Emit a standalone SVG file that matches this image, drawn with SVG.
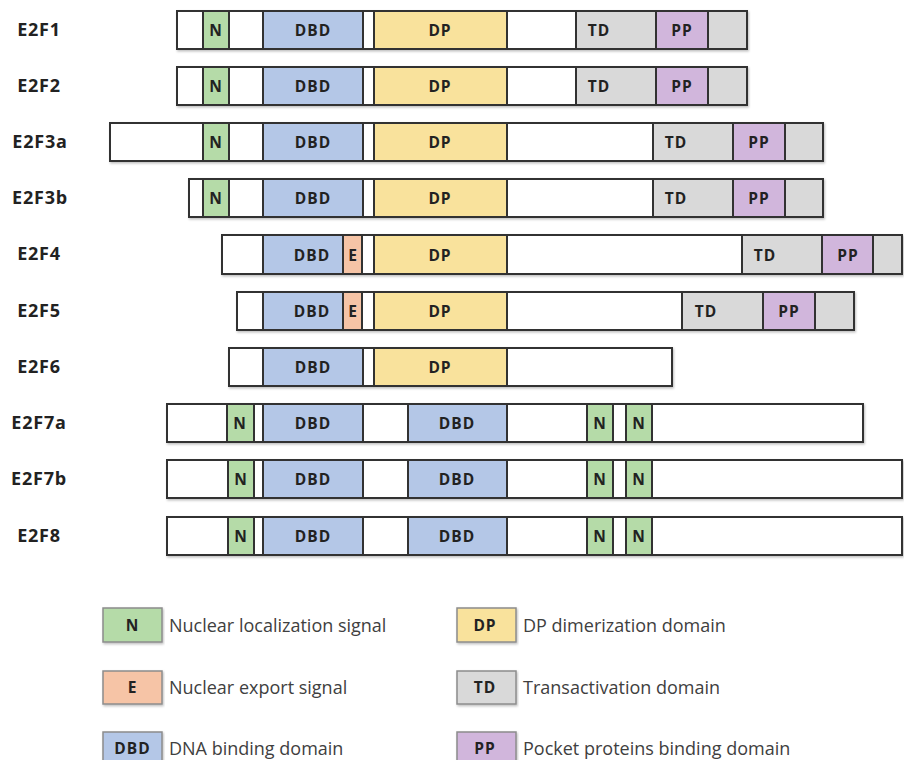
<svg xmlns="http://www.w3.org/2000/svg" width="904" height="760" viewBox="0 0 904 760">
<defs>
<filter id="sh" x="-5%" y="-30%" width="110%" height="170%">
<feDropShadow dx="1" dy="1.5" stdDeviation="1" flood-color="#000" flood-opacity="0.25"/>
</filter>
<style>
.bar{fill:#fff;stroke:#333;stroke-width:2}
.seg{stroke:#333;stroke-width:2}
.n{fill:#b5dba8}.e{fill:#f6c4a6}.dbd{fill:#b4c7e7}.dp{fill:#f9e29c}.td{fill:#d9d9d9}.pp{fill:#d1b6dc}
.lab{font-family:"Open Sans","Noto Sans",sans-serif;font-weight:bold;font-size:18px;fill:#222;text-anchor:middle;letter-spacing:0.8px}
.in{font-family:"Open Sans","Noto Sans",sans-serif;font-weight:bold;font-size:15.5px;fill:#222;text-anchor:middle;letter-spacing:1px}
.lbox{stroke:#8c8c8c;stroke-width:1.5}
.lt{font-family:"Open Sans","Noto Sans",sans-serif;font-size:18px;fill:#404040}
</style>
</defs>

<g id="E2F1">
<text class="lab" x="39" y="36">E2F1</text>
<g filter="url(#sh)">
<rect class="bar" x="177" y="11" width="570" height="38"/>
<rect class="seg n" x="203" y="11" width="26" height="38"/>
<rect class="seg dbd" x="263" y="11" width="100" height="38"/>
<rect class="seg dp" x="374" y="11" width="133" height="38"/>
<rect class="seg td" x="576" y="11" width="80" height="38"/>
<rect class="seg pp" x="656" y="11" width="52" height="38"/>
<rect class="seg td" x="708" y="11" width="39" height="38"/>
</g>
<text class="in" x="216" y="36">N</text><text class="in" x="313" y="36">DBD</text><text class="in" x="440" y="36">DP</text><text class="in" x="599" y="36">TD</text><text class="in" x="682" y="36">PP</text>
</g>

<g id="E2F2">
<text class="lab" x="39" y="92">E2F2</text>
<g filter="url(#sh)">
<rect class="bar" x="177" y="67" width="570" height="38"/>
<rect class="seg n" x="203" y="67" width="26" height="38"/>
<rect class="seg dbd" x="263" y="67" width="100" height="38"/>
<rect class="seg dp" x="374" y="67" width="133" height="38"/>
<rect class="seg td" x="576" y="67" width="80" height="38"/>
<rect class="seg pp" x="656" y="67" width="52" height="38"/>
<rect class="seg td" x="708" y="67" width="39" height="38"/>
</g>
<text class="in" x="216" y="92">N</text><text class="in" x="313" y="92">DBD</text><text class="in" x="440" y="92">DP</text><text class="in" x="599" y="92">TD</text><text class="in" x="682" y="92">PP</text>
</g>

<g id="E2F3a">
<text class="lab" x="40" y="148">E2F3a</text>
<g filter="url(#sh)">
<rect class="bar" x="110" y="123" width="713" height="38"/>
<rect class="seg n" x="203" y="123" width="26" height="38"/>
<rect class="seg dbd" x="263" y="123" width="100" height="38"/>
<rect class="seg dp" x="374" y="123" width="133" height="38"/>
<rect class="seg td" x="653" y="123" width="80" height="38"/>
<rect class="seg pp" x="733" y="123" width="52" height="38"/>
<rect class="seg td" x="785" y="123" width="38" height="38"/>
</g>
<text class="in" x="216" y="148">N</text><text class="in" x="313" y="148">DBD</text><text class="in" x="440" y="148">DP</text><text class="in" x="676" y="148">TD</text><text class="in" x="759" y="148">PP</text>
</g>

<g id="E2F3b">
<text class="lab" x="40" y="204">E2F3b</text>
<g filter="url(#sh)">
<rect class="bar" x="189" y="179" width="634" height="38"/>
<rect class="seg n" x="203" y="179" width="26" height="38"/>
<rect class="seg dbd" x="263" y="179" width="100" height="38"/>
<rect class="seg dp" x="374" y="179" width="133" height="38"/>
<rect class="seg td" x="653" y="179" width="80" height="38"/>
<rect class="seg pp" x="733" y="179" width="52" height="38"/>
<rect class="seg td" x="785" y="179" width="38" height="38"/>
</g>
<text class="in" x="216" y="204">N</text><text class="in" x="313" y="204">DBD</text><text class="in" x="440" y="204">DP</text><text class="in" x="676" y="204">TD</text><text class="in" x="759" y="204">PP</text>
</g>

<g id="E2F4">
<text class="lab" x="39" y="260">E2F4</text>
<g filter="url(#sh)">
<rect class="bar" x="222" y="235" width="680" height="39"/>
<rect class="seg dbd" x="263" y="235" width="80" height="39"/>
<rect class="seg e" x="343" y="235" width="19" height="39"/>
<rect class="seg dp" x="374" y="235" width="133" height="39"/>
<rect class="seg td" x="742" y="235" width="80" height="39"/>
<rect class="seg pp" x="822" y="235" width="51" height="39"/>
<rect class="seg td" x="873" y="235" width="29" height="39"/>
</g>
<text class="in" x="312" y="261">DBD</text><text class="in" x="353" y="261">E</text><text class="in" x="440" y="261">DP</text><text class="in" x="765" y="261">TD</text><text class="in" x="848" y="261">PP</text>
</g>

<g id="E2F5">
<text class="lab" x="39" y="317">E2F5</text>
<g filter="url(#sh)">
<rect class="bar" x="237" y="292" width="617" height="38"/>
<rect class="seg dbd" x="263" y="292" width="80" height="38"/>
<rect class="seg e" x="343" y="292" width="19" height="38"/>
<rect class="seg dp" x="374" y="292" width="133" height="38"/>
<rect class="seg td" x="682" y="292" width="81" height="38"/>
<rect class="seg pp" x="763" y="292" width="52" height="38"/>
<rect class="seg td" x="815" y="292" width="39" height="38"/>
</g>
<text class="in" x="312" y="317">DBD</text><text class="in" x="353" y="317">E</text><text class="in" x="440" y="317">DP</text><text class="in" x="706" y="317">TD</text><text class="in" x="789" y="317">PP</text>
</g>

<g id="E2F6">
<text class="lab" x="39" y="373">E2F6</text>
<g filter="url(#sh)">
<rect class="bar" x="229" y="348" width="443" height="38"/>
<rect class="seg dbd" x="263" y="348" width="100" height="38"/>
<rect class="seg dp" x="374" y="348" width="133" height="38"/>
</g>
<text class="in" x="313" y="373">DBD</text><text class="in" x="440" y="373">DP</text>
</g>

<g id="E2F7a">
<text class="lab" x="39" y="429">E2F7a</text>
<g filter="url(#sh)">
<rect class="bar" x="167" y="404" width="696" height="38"/>
<rect class="seg n" x="227" y="404" width="27" height="38"/>
<rect class="seg dbd" x="263" y="404" width="100" height="38"/>
<rect class="seg dbd" x="408" y="404" width="99" height="38"/>
<rect class="seg n" x="587" y="404" width="26" height="38"/>
<rect class="seg n" x="626" y="404" width="26" height="38"/>
</g>
<text class="in" x="240" y="429">N</text><text class="in" x="313" y="429">DBD</text><text class="in" x="457" y="429">DBD</text><text class="in" x="600" y="429">N</text><text class="in" x="639" y="429">N</text>
</g>

<g id="E2F7b">
<text class="lab" x="39" y="485">E2F7b</text>
<g filter="url(#sh)">
<rect class="bar" x="167" y="460" width="735" height="38"/>
<rect class="seg n" x="228" y="460" width="26" height="38"/>
<rect class="seg dbd" x="263" y="460" width="100" height="38"/>
<rect class="seg dbd" x="408" y="460" width="99" height="38"/>
<rect class="seg n" x="587" y="460" width="26" height="38"/>
<rect class="seg n" x="626" y="460" width="26" height="38"/>
</g>
<text class="in" x="241" y="485">N</text><text class="in" x="313" y="485">DBD</text><text class="in" x="457" y="485">DBD</text><text class="in" x="600" y="485">N</text><text class="in" x="639" y="485">N</text>
</g>

<g id="E2F8">
<text class="lab" x="39" y="542">E2F8</text>
<g filter="url(#sh)">
<rect class="bar" x="167" y="517" width="735" height="38"/>
<rect class="seg n" x="228" y="517" width="26" height="38"/>
<rect class="seg dbd" x="263" y="517" width="100" height="38"/>
<rect class="seg dbd" x="408" y="517" width="99" height="38"/>
<rect class="seg n" x="587" y="517" width="26" height="38"/>
<rect class="seg n" x="626" y="517" width="26" height="38"/>
</g>
<text class="in" x="241" y="542">N</text><text class="in" x="313" y="542">DBD</text><text class="in" x="457" y="542">DBD</text><text class="in" x="600" y="542">N</text><text class="in" x="639" y="542">N</text>
</g>

<g id="legend">
<g id="leg-N"><rect class="lbox n" x="103" y="608" width="59" height="34" filter="url(#sh)"/><text class="in" x="132.5" y="631">N</text><text class="lt" x="169" y="632">Nuclear localization signal</text></g>
<g id="leg-E"><rect class="lbox e" x="103" y="671" width="59" height="33" filter="url(#sh)"/><text class="in" x="132.5" y="693">E</text><text class="lt" x="169" y="694">Nuclear export signal</text></g>
<g id="leg-DBD"><rect class="lbox dbd" x="103" y="732" width="59" height="34" filter="url(#sh)"/><text class="in" x="132.5" y="754">DBD</text><text class="lt" x="169" y="755">DNA binding domain</text></g>
<g id="leg-DP"><rect class="lbox dp" x="457" y="608" width="59" height="34" filter="url(#sh)"/><text class="in" x="485" y="631">DP</text><text class="lt" x="523" y="632">DP dimerization domain</text></g>
<g id="leg-TD"><rect class="lbox td" x="457" y="671" width="59" height="33" filter="url(#sh)"/><text class="in" x="485" y="693">TD</text><text class="lt" x="523" y="694">Transactivation domain</text></g>
<g id="leg-PP"><rect class="lbox pp" x="457" y="732" width="59" height="34" filter="url(#sh)"/><text class="in" x="485" y="754">PP</text><text class="lt" x="523" y="755">Pocket proteins binding domain</text></g>
</g>
</svg>
